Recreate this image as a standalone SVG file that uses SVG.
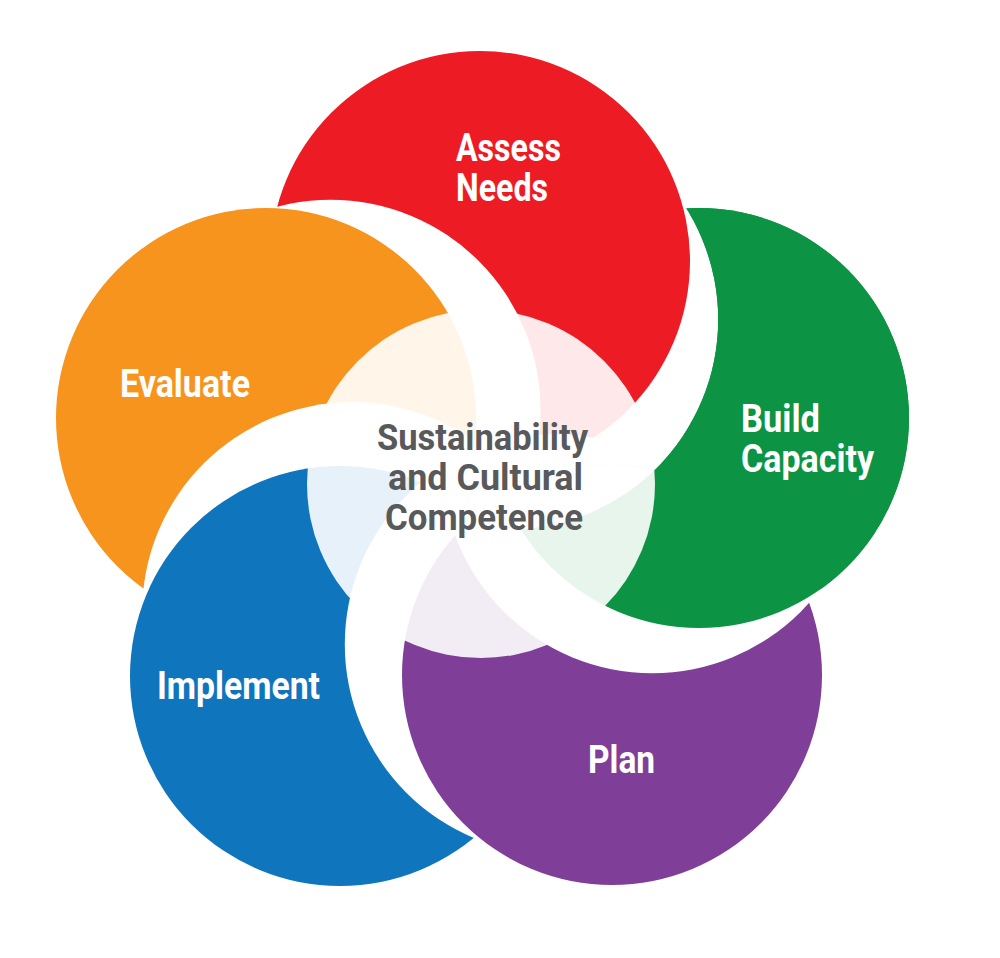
<svg xmlns="http://www.w3.org/2000/svg" width="1000" height="958" viewBox="0 0 1000 958">
  <style>
    .gap { fill: #ffffff; }
    .lbl { font-family: Roboto, "Liberation Sans", Arial, sans-serif; font-weight: bold; font-size: 38px; fill: #ffffff; }
    .ctr { font-family: Roboto, "Liberation Sans", Arial, sans-serif; font-weight: bold; font-size: 37px; fill: #58595b; }
  </style>
  <defs>
    <mask id="notRed" maskUnits="userSpaceOnUse" x="0" y="0" width="1000" height="958">
      <rect x="0" y="0" width="1000" height="958" fill="#ffffff"/>
      <circle cx="508.2" cy="319.5" r="210" fill="#000000"/>
      <circle cx="480" cy="261" r="210" fill="#000000"/>
    </mask>
    <clipPath id="purpleClip">
      <circle cx="612" cy="675" r="210"/>
    </clipPath>
  </defs>
  <rect x="0" y="0" width="1000" height="958" fill="#ffffff"/>

  <g id="node-build-capacity-base">
    <circle cx="699" cy="418" r="210" fill="#0c9444"/>
  </g>

  <g id="node-assess-needs">
    <circle class="gap" cx="508.2" cy="319.5" r="210"/>
    <circle cx="480" cy="261" r="210" fill="#ed1c24"/>
    <text class="lbl" x="456" y="161" textLength="105" lengthAdjust="spacingAndGlyphs">Assess</text>
    <text class="lbl" x="456" y="201" textLength="92" lengthAdjust="spacingAndGlyphs">Needs</text>
  </g>

  <g id="node-evaluate">
    <circle class="gap" cx="330.5" cy="409.7" r="210"/>
    <circle cx="266" cy="418" r="210" fill="#f7941e"/>
    <text class="lbl" x="120" y="397" textLength="130" lengthAdjust="spacingAndGlyphs">Evaluate</text>
  </g>

  <g id="node-implement">
    <circle class="gap" cx="352.1" cy="612.1" r="210"/>
    <circle cx="340" cy="676" r="210" fill="#0f75bc"/>
    <text class="lbl" x="157" y="699" textLength="163" lengthAdjust="spacingAndGlyphs">Implement</text>
  </g>

  <g id="node-plan">
    <circle class="gap" cx="554.8" cy="644.2" r="210"/>
    <circle cx="612" cy="675" r="210" fill="#7f3f98"/>
    <text class="lbl" x="588" y="773" textLength="67" lengthAdjust="spacingAndGlyphs">Plan</text>
  </g>

  <g id="node-build-capacity">
    <g mask="url(#notRed)">
      <circle class="gap" cx="652.3" cy="463.2" r="210"/>
      <circle cx="699" cy="418" r="210" fill="#0c9444"/>
    </g>
    <text class="lbl" x="741" y="432" textLength="79" lengthAdjust="spacingAndGlyphs">Build</text>
    <text class="lbl" x="741" y="472" textLength="133" lengthAdjust="spacingAndGlyphs">Capacity</text>
  </g>

  <g id="assess-needs-gap-over-plan">
    <circle class="gap" cx="508.2" cy="319.5" r="210" clip-path="url(#purpleClip)"/>
  </g>

  <g id="node-center">
    <circle cx="481" cy="484" r="174" fill="#ffffff" fill-opacity="0.9"/>
    <text class="ctr" x="377" y="450" textLength="211" lengthAdjust="spacingAndGlyphs">Sustainability</text>
    <text class="ctr" x="388" y="490" textLength="195" lengthAdjust="spacingAndGlyphs">and Cultural</text>
    <text class="ctr" x="385" y="530" textLength="198" lengthAdjust="spacingAndGlyphs">Competence</text>
  </g>
</svg>
